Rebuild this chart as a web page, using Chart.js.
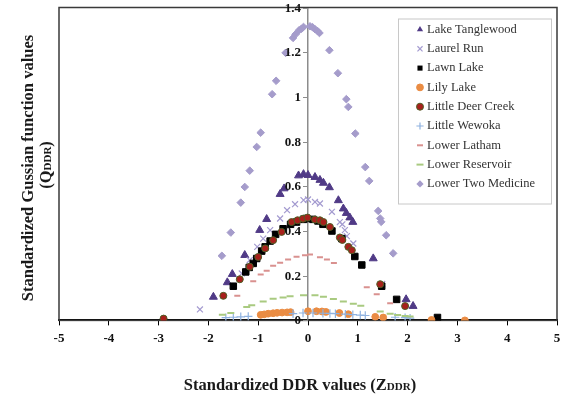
<!DOCTYPE html>
<html>
<head>
<meta charset="utf-8">
<script src="https://cdn.jsdelivr.net/npm/chart.js@4.4.1/dist/chart.umd.min.js"></script>
<style>
html, body { margin: 0; padding: 0; background: #fff; }
#wrap { width: 569px; height: 394px; }
</style>
</head>
<body>
<div id="wrap"><canvas id="ddrChart" width="569" height="394"></canvas></div>
<script>
// values (Z_DDR, Q_DDR) for each lake
const seriesNames = ["Lake Tanglewood", "Laurel Run", "Lawn Lake", "Lily Lake", "Little Deer Creek",
    "Little Wewoka", "Lower Latham", "Lower Reservoir", "Lower Two Medicine"];

const tanglewoodX = [-1.90, -1.62, -1.52, -1.27, -0.97, -0.83, -0.56, -0.48, -0.19, -0.09, 0.00, 0.14, 0.24, 0.31, 0.43, 0.61, 0.71, 0.77, 0.84, 0.90, 1.31, 1.97, 2.11];
const tanglewoodY = [0.105, 0.170, 0.207, 0.292, 0.404, 0.453, 0.565, 0.590, 0.648, 0.654, 0.650, 0.641, 0.628, 0.615, 0.595, 0.537, 0.500, 0.480, 0.460, 0.440, 0.277, 0.094, 0.064];

const laurelX = [-2.17, -1.33, -1.17, -1.02, -0.90, -0.76, -0.56, -0.42, -0.26, -0.09, 0.00, 0.14, 0.24, 0.48, 0.64, 0.69, 0.74, 0.78, 0.91, 1.49];
const laurelY = [0.049, 0.210, 0.270, 0.329, 0.366, 0.404, 0.456, 0.493, 0.520, 0.538, 0.541, 0.530, 0.523, 0.486, 0.440, 0.430, 0.404, 0.377, 0.344, 0.163];

const lawnX = [-1.50, -1.25, -1.18, -1.10, -1.03, -0.93, -0.86, -0.76, -0.65, -0.50, -0.35, -0.23, -0.09, -0.03, 0.10, 0.20, 0.30, 0.48, 0.68, 0.94, 1.08, 1.48, 1.78, 2.60];
const lawnY = [0.153, 0.217, 0.237, 0.255, 0.277, 0.310, 0.329, 0.355, 0.385, 0.410, 0.430, 0.440, 0.452, 0.456, 0.452, 0.445, 0.430, 0.400, 0.366, 0.286, 0.248, 0.153, 0.094, 0.013];

const lilyX = [-0.95, -0.88, -0.80, -0.70, -0.62, -0.52, -0.42, -0.35, 0.00, 0.17, 0.28, 0.36, 0.63, 0.81, 1.35, 1.51, 2.48, 3.15];
const lilyY = [0.025, 0.027, 0.030, 0.032, 0.034, 0.035, 0.036, 0.037, 0.041, 0.041, 0.040, 0.038, 0.033, 0.028, 0.016, 0.013, 0.002, 0.000];

const deerX = [-2.90, -1.70, -1.37, -1.17, -1.00, -0.86, -0.70, -0.53, -0.33, -0.21, -0.10, -0.01, 0.14, 0.24, 0.31, 0.44, 0.64, 0.69, 0.81, 0.88, 1.45, 1.95];
const deerY = [0.008, 0.110, 0.184, 0.240, 0.284, 0.322, 0.359, 0.396, 0.440, 0.448, 0.455, 0.460, 0.451, 0.448, 0.440, 0.418, 0.371, 0.360, 0.329, 0.314, 0.162, 0.064];

const wewokaX = [-1.65, -1.50, -1.35, -1.20, -0.30, -0.10, 0.10, 0.30, 0.44, 0.55, 0.75, 0.90, 1.05, 1.15, 1.75, 1.95, 2.05];
const wewokaY = [0.012, 0.014, 0.016, 0.018, 0.030, 0.033, 0.033, 0.032, 0.031, 0.030, 0.028, 0.026, 0.024, 0.022, 0.014, 0.012, 0.010];

const lathamX = [-1.42, -1.10, -0.95, -0.83, -0.70, -0.56, -0.40, -0.23, -0.06, 0.04, 0.24, 0.38, 0.52, 1.18, 1.38, 1.65];
const lathamY = [0.110, 0.175, 0.205, 0.222, 0.245, 0.258, 0.272, 0.285, 0.292, 0.295, 0.283, 0.272, 0.257, 0.148, 0.117, 0.077];

const reservoirX = [-1.72, -1.55, -1.23, -1.13, -0.90, -0.70, -0.50, -0.36, -0.09, 0.14, 0.31, 0.51, 0.71, 0.91, 1.06, 1.45, 1.65, 1.80, 1.95, 2.05];
const reservoirY = [0.025, 0.033, 0.060, 0.068, 0.085, 0.097, 0.103, 0.108, 0.113, 0.112, 0.106, 0.096, 0.085, 0.074, 0.065, 0.040, 0.030, 0.024, 0.020, 0.018];

const medicineX = [-1.73, -1.55, -1.35, -1.27, -1.17, -1.03, -0.95, -0.72, -0.64, -0.45, -0.30, -0.25, -0.18, -0.13, -0.09, 0.04, 0.09, 0.14, 0.19, 0.23, 0.43, 0.60, 0.77, 0.81, 0.95, 1.15, 1.23, 1.41, 1.45, 1.47, 1.57, 1.71];
const medicineY = [0.289, 0.393, 0.527, 0.597, 0.670, 0.776, 0.840, 1.012, 1.072, 1.197, 1.264, 1.280, 1.298, 1.305, 1.313, 1.316, 1.312, 1.303, 1.295, 1.286, 1.209, 1.106, 0.990, 0.955, 0.836, 0.686, 0.624, 0.490, 0.456, 0.441, 0.381, 0.300];

const xTicks = [-5, -4, -3, -2, -1, 0, 1, 2, 3, 4, 5];
const yTicks = [0, 0.2, 0.4, 0.6, 0.8, 1, 1.2, 1.4];

const allX = [tanglewoodX, laurelX, lawnX, lilyX, deerX, wewokaX, lathamX, reservoirX, medicineX];
const allY = [tanglewoodY, laurelY, lawnY, lilyY, deerY, wewokaY, lathamY, reservoirY, medicineY];

const markerStyles = [
    { pointStyle: "triangle", radius: 4.6, bg: "#503A86", border: "#503A86", bw: 1 },
    { pointStyle: "crossRot", radius: 4.2, bg: "#A49BD0", border: "#A49BD0", bw: 1.2 },
    { pointStyle: "rect", radius: 4.6, bg: "#000000", border: "#000000", bw: 1 },
    { pointStyle: "circle", radius: 3.4, bg: "#EA8C43", border: "#EA8C43", bw: 1 },
    { pointStyle: "circle", radius: 3.5, bg: "#A8201C", border: "#4E5F25", bw: 1 },
    { pointStyle: "cross", radius: 4.2, bg: "#8FB2E0", border: "#8FB2E0", bw: 1.2 },
    { pointStyle: "line", radius: 3, bg: "#D9918F", border: "#D9918F", bw: 2 },
    { pointStyle: "line", radius: 3.5, bg: "#A9CA80", border: "#A9CA80", bw: 2 },
    { pointStyle: "rectRot", radius: 3.8, bg: "#A59CCB", border: "#A59CCB", bw: 1 }
];

const serif = "'Liberation Serif', 'DejaVu Serif', serif";

const datasets = seriesNames.map(function (name, i) {
    const m = markerStyles[i];
    return {
        label: name,
        data: allX[i].map(function (x, j) { return { x: x, y: allY[i][j] }; }),
        pointStyle: m.pointStyle,
        pointRadius: m.radius,
        pointBackgroundColor: m.bg,
        pointBorderColor: m.border,
        pointBorderWidth: m.bw,
        showLine: false,
        order: seriesNames.length - i // later series painted on top, like the original
    };
});

// rich text helper so DDR can be set smaller, as in the figure
function drawRich(ctx, parts, cx, baseY) {
    let total = 0;
    parts.forEach(function (p) { ctx.font = p.font; total += ctx.measureText(p.text).width; });
    let x = cx - total / 2;
    ctx.textAlign = "left";
    ctx.textBaseline = "alphabetic";
    parts.forEach(function (p) {
        ctx.font = p.font;
        ctx.fillText(p.text, x, baseY);
        x += ctx.measureText(p.text).width;
    });
}

function drawMarker(ctx, m, x, y) {
    ctx.save();
    ctx.fillStyle = m.bg;
    ctx.strokeStyle = m.border;
    ctx.lineWidth = m.bw;
    const r = m.radius;
    ctx.beginPath();
    if (m.pointStyle === "triangle") {
        ctx.moveTo(x, y - r);
        ctx.lineTo(x + r * 0.866, y + r * 0.5);
        ctx.lineTo(x - r * 0.866, y + r * 0.5);
        ctx.closePath(); ctx.fill();
    } else if (m.pointStyle === "rect") {
        const s = r * Math.SQRT1_2;
        ctx.rect(x - s, y - s, 2 * s, 2 * s); ctx.fill();
    } else if (m.pointStyle === "rectRot") {
        ctx.moveTo(x, y - r); ctx.lineTo(x + r, y); ctx.lineTo(x, y + r); ctx.lineTo(x - r, y);
        ctx.closePath(); ctx.fill();
    } else if (m.pointStyle === "circle") {
        ctx.arc(x, y, r, 0, Math.PI * 2); ctx.fill(); ctx.stroke();
    } else if (m.pointStyle === "cross") {
        ctx.moveTo(x - r, y); ctx.lineTo(x + r, y); ctx.moveTo(x, y - r); ctx.lineTo(x, y + r); ctx.stroke();
    } else if (m.pointStyle === "crossRot") {
        const s = r * Math.SQRT1_2;
        ctx.moveTo(x - s, y - s); ctx.lineTo(x + s, y + s); ctx.moveTo(x - s, y + s); ctx.lineTo(x + s, y - s); ctx.stroke();
    } else if (m.pointStyle === "line") {
        ctx.moveTo(x - r, y); ctx.lineTo(x + r, y); ctx.stroke();
    }
    ctx.restore();
}

const framePlugin = {
    id: "frame",
    beforeDatasetsDraw(chart) {
        const a = chart.chartArea;
        const ctx = chart.ctx;
        ctx.save();
        ctx.strokeStyle = "#3a3a3a";
        ctx.lineWidth = 1.5;
        ctx.strokeRect(a.left, a.top, a.right - a.left, a.bottom - a.top);
        ctx.restore();
    },
    afterDatasetsDraw(chart) {
        // y tick marks and labels sit left of the centre axis (x = 0)
        const ctx = chart.ctx;
        const xs = chart.scales.x, ys = chart.scales.y;
        const ax = xs.getPixelForValue(0);
        ctx.save();
        ctx.strokeStyle = "#8c8c8c";
        ctx.lineWidth = 1;
        ctx.fillStyle = "#111111";
        ctx.font = "bold 13px " + serif;
        ctx.textAlign = "right";
        ctx.textBaseline = "middle";
        yTicks.forEach(function (v) {
            const py = Math.round(ys.getPixelForValue(v)) + 0.5;
            ctx.beginPath();
            ctx.moveTo(ax - 5, py);
            ctx.lineTo(ax, py);
            ctx.stroke();
            ctx.fillText(String(v), ax - 7, py);
        });
        ctx.restore();
    },
    afterDraw(chart) {
        const a = chart.chartArea;
        const ctx = chart.ctx;
        ctx.save();
        ctx.fillStyle = "#1a1a1a";
        // x title
        drawRich(ctx, [
            { text: "Standardized DDR values (Z", font: "bold 16.5px " + serif },
            { text: "DDR", font: "bold 11px " + serif },
            { text: ")", font: "bold 16.5px " + serif }
        ], 300, 390);
        // y title, two lines
        ctx.save();
        ctx.translate(33, 168);
        ctx.rotate(-Math.PI / 2);
        drawRich(ctx, [{ text: "Standardized Gussian function values", font: "bold 16.5px " + serif }], 0, 0);
        ctx.restore();
        ctx.save();
        ctx.translate(51, 165);
        ctx.rotate(-Math.PI / 2);
        drawRich(ctx, [
            { text: "(Q", font: "bold 16.5px " + serif },
            { text: "DDR", font: "bold 11px " + serif },
            { text: ")", font: "bold 16.5px " + serif }
        ], 0, 0);
        ctx.restore();

        // legend box inside the plot
        const bx = a.right - 159, by = a.top + 11, bw = 153, bh = 185;
        ctx.fillStyle = "#ffffff";
        ctx.fillRect(bx, by, bw, bh);
        ctx.strokeStyle = "#c8c8c8";
        ctx.lineWidth = 1;
        ctx.strokeRect(bx + 0.5, by + 0.5, bw, bh);
        ctx.font = "12.5px " + serif;
        ctx.textAlign = "left";
        ctx.textBaseline = "middle";
        seriesNames.forEach(function (name, i) {
            const y = by + 11 + i * 19.3;
            const m = Object.assign({}, markerStyles[i], { radius: Math.min(markerStyles[i].radius, 3.6) });
            drawMarker(ctx, m, bx + 22, y);
            ctx.fillStyle = "#333333";
            ctx.fillText(name, bx + 29, y);
        });
        ctx.restore();
    }
};

new Chart(document.getElementById("ddrChart"), {
    type: "scatter",
    data: { datasets: datasets },
    options: {
        responsive: false,
        animation: false,
        devicePixelRatio: 1,
        layout: { padding: { left: 59, right: 12, top: 7.5, bottom: 43 } },
        plugins: {
            legend: { display: false },
            tooltip: { enabled: false }
        },
        scales: {
            x: {
                type: "linear",
                min: -5,
                max: 5,
                afterBuildTicks: function (axis) { axis.ticks = xTicks.map(function (v) { return { value: v }; }); },
                border: { display: true, color: "#000000", width: 2 },
                grid: { drawOnChartArea: false, drawTicks: true, tickLength: 5, color: "#000000" },
                ticks: {
                    padding: 5,
                    color: "#111111",
                    font: { family: serif, size: 13, weight: "bold" }
                }
            },
            y: {
                type: "linear",
                position: { x: 0 },
                min: 0,
                max: 1.4,
                afterBuildTicks: function (axis) { axis.ticks = yTicks.map(function (v) { return { value: v }; }); },
                border: { display: true, color: "#8c8c8c", width: 1.5 },
                grid: { display: false },
                ticks: { display: false }
            }
        }
    },
    plugins: [framePlugin]
});
</script>
</body>
</html>
